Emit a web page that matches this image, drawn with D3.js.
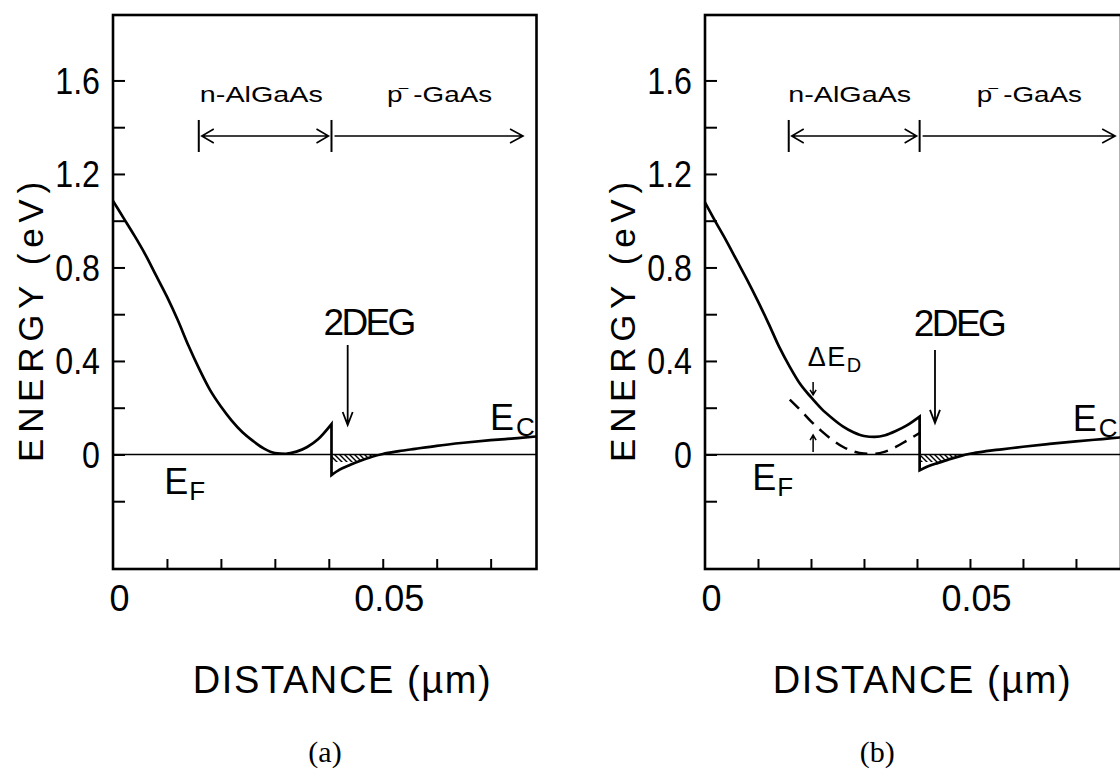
<!DOCTYPE html>
<html>
<head>
<meta charset="utf-8">
<script src="https://cdn.jsdelivr.net/npm/d3@7"></script>
<style>
  html, body { margin: 0; padding: 0; background: #fff; }
  svg { display: block; }
  text { font-family: "Liberation Sans", Arial, Helvetica, sans-serif; fill: #000; }
</style>
</head>
<body>
<svg id="chart" width="1120" height="772"></svg>
<script>
// Conduction-band edge of an n-AlGaAs / p−-GaAs heterostructure (2DEG at the interface)

// Axis ticks
const yTickValues = [-0.2, 0, 0.2, 0.4, 0.6, 0.8, 1.0, 1.2, 1.4, 1.6];
const yTickLabels = ["0", "0.4", "0.8", "1.2", "1.6"];
const yLabelValues = [0, 0.4, 0.8, 1.2, 1.6];
const xTickValues = [0.01, 0.02, 0.03, 0.04, 0.05, 0.06, 0.07];
const xLabelValues = [0, 0.05];
const xTickLabels = ["0", "0.05"];

// Distance (µm) and energy (eV) extents of each frame
const xMax = 0.0785;
const yDomain = [-0.49, 1.88];

// Layer boundaries (µm)
const interfaceX = 0.0405;
const subbandE = -0.032;   // lower edge of the occupied 2DEG band

// (a) conduction band in n-AlGaAs
const aBarrierX = [0, 0.002, 0.004, 0.006, 0.008, 0.010, 0.012, 0.014, 0.016, 0.018, 0.020,
                   0.022, 0.024, 0.026, 0.028, 0.030, 0.032, 0.034, 0.036, 0.038, 0.0405];
const aBarrierE = [1.085, 1.01, 0.935, 0.855, 0.765, 0.675, 0.575, 0.465, 0.365, 0.275, 0.205,
                   0.145, 0.095, 0.057, 0.025, 0.006, 0.003, 0.012, 0.032, 0.065, 0.13];
// (a) conduction band in p−-GaAs
const aChannelX = [0.0405, 0.042, 0.044, 0.046, 0.048, 0.050, 0.053, 0.056, 0.060, 0.065, 0.070, 0.075, 0.0785];
const aChannelE = [-0.088, -0.065, -0.044, -0.026, -0.010, 0.002, 0.014, 0.024, 0.037, 0.050, 0.061, 0.070, 0.077];

// (b) conduction band in n-AlGaAs with donor level shift
const bBarrierX = [0, 0.002, 0.004, 0.006, 0.008, 0.010, 0.012, 0.014, 0.016, 0.018, 0.020,
                   0.022, 0.024, 0.026, 0.028, 0.030, 0.032, 0.034, 0.036, 0.038, 0.0405];
const bBarrierE = [1.078, 0.995, 0.915, 0.83, 0.745, 0.655, 0.56, 0.46, 0.375, 0.30, 0.245,
                   0.195, 0.155, 0.12, 0.095, 0.079, 0.075, 0.082, 0.10, 0.123, 0.162];
// (b) band without the shift (dashed)
const bReferenceX = [0.0160, 0.018, 0.020, 0.022, 0.024, 0.026, 0.028, 0.030, 0.032, 0.034, 0.036, 0.038, 0.0405];
const bReferenceE = [0.235, 0.19, 0.142, 0.10, 0.063, 0.033, 0.013, 0.004, 0.003, 0.012, 0.032, 0.058, 0.092];
// (b) conduction band in p−-GaAs
const bChannelX = [0.0405, 0.042, 0.044, 0.046, 0.048, 0.050, 0.053, 0.056, 0.060, 0.065, 0.070, 0.075, 0.0785];
const bChannelE = [-0.068, -0.052, -0.036, -0.021, -0.008, 0.003, 0.014, 0.022, 0.033, 0.045, 0.056, 0.066, 0.073];

const panels = [
  {
    key: "a", x0: 113, width: 423.5,
    barrier: d3.zip(aBarrierX, aBarrierE),
    channel: d3.zip(aChannelX, aChannelE),
    reference: null,
    nLabel: [0.0161, 1.508], pLabel: [0.0508, 1.508],
    regionStart: 0.0159, regionE: 1.3625, pArrowEnd: 0.076,
    degLabel: [0.039, 0.511], degArrow: [0.0435, 0.468, 0.126],
    ecLabel: [0.0699, 0.105], efLabel: [0.0095, -0.168],
    yTitleE: 0.567, xTitleX: 0.0424, captionX: 0.0393, caption: "(a)",
    deltaLabel: null
  },
  {
    key: "b", x0: 705, width: 416,
    barrier: d3.zip(bBarrierX, bBarrierE),
    channel: d3.zip(bChannelX, bChannelE),
    reference: d3.zip(bReferenceX, bReferenceE),
    nLabel: [0.0157, 1.508], pLabel: [0.0513, 1.508],
    regionStart: 0.0158, regionE: 1.3625, pArrowEnd: 0.0774,
    degLabel: [0.0394, 0.507], degArrow: [0.0434, 0.447, 0.135],
    ecLabel: [0.0694, 0.1], efLabel: [0.0089, -0.152],
    yTitleE: 0.567, xTitleX: 0.0409, captionX: 0.0325, caption: "(b)",
    deltaLabel: [0.0194, 0.378], deltaArrows: [0.0204, 0.31, 0.255, 0.011, 0.083]
  }
];

const svg = d3.select("#chart");
const defs = svg.append("defs");

// diagonal hatch for the occupied 2DEG states
const hatch = defs.append("pattern")
  .attr("id", "hatch").attr("patternUnits", "userSpaceOnUse")
  .attr("width", 5).attr("height", 5);
hatch.append("path")
  .attr("d", "M-1,-1 L6,6 M4,-1 L6,1 M-1,4 L1,6")
  .attr("stroke", "#000").attr("stroke-width", 1.4);

// open V arrow from (x1,y1) to (x2,y2), in pixels
function arrowPath(x1, y1, x2, y2, len, half) {
  const a = Math.atan2(y2 - y1, x2 - x1);
  const bx = x2 - len * Math.cos(a), by = y2 - len * Math.sin(a);
  const px = -Math.sin(a) * half, py = Math.cos(a) * half;
  return `M${x1},${y1}L${x2},${y2}M${bx + px},${by + py}L${x2},${y2}L${bx - px},${by - py}`;
}

panels.forEach(p => {
  const x = d3.scaleLinear().domain([0, xMax]).range([p.x0, p.x0 + p.width]);
  const y = d3.scaleLinear().domain(yDomain).range([569, 15]);
  const g = svg.append("g").attr("class", "panel-" + p.key);

  // frame
  g.append("rect")
    .attr("x", x(0)).attr("y", y(yDomain[1]))
    .attr("width", x(xMax) - x(0)).attr("height", y(yDomain[0]) - y(yDomain[1]))
    .attr("fill", "none").attr("stroke", "#000").attr("stroke-width", 2.6);

  // left axis: inward ticks, labels every 0.4 eV
  const yAxis = g.append("g").attr("transform", `translate(${x(0)},0)`)
    .call(d3.axisLeft(y).tickValues(yTickValues).tickSize(-12).tickPadding(13)
      .tickFormat(d => {
        const i = yLabelValues.findIndex(v => Math.abs(v - d) < 1e-9);
        return i >= 0 ? yTickLabels[i] : "";
      }));
  yAxis.select(".domain").remove();
  yAxis.selectAll("line").attr("stroke", "#000").attr("stroke-width", 2);
  yAxis.selectAll("text").attr("font-size", 37).attr("font-family", "Liberation Sans, Arial, sans-serif")
    .attr("dy", "0.35em")
    .each(function () {
      // condensed lettering
      const w = this.getComputedTextLength();
      if (w > 0) d3.select(this).attr("textLength", w * 0.87).attr("lengthAdjust", "spacingAndGlyphs");
    });

  // bottom axis: inward ticks
  const xAxis = g.append("g").attr("transform", `translate(0,${y(yDomain[0])})`)
    .call(d3.axisBottom(x).tickValues(xTickValues).tickSize(-10).tickFormat(""));
  xAxis.select(".domain").remove();
  xAxis.selectAll("line").attr("stroke", "#000").attr("stroke-width", 2);

  const xLabels = g.append("g").attr("transform", `translate(0,${y(yDomain[0])})`)
    .call(d3.axisBottom(x).tickValues(xLabelValues).tickSize(0).tickPadding(16)
      .tickFormat((d, i) => xTickLabels[i]));
  xLabels.select(".domain").remove();
  xLabels.selectAll("text").attr("font-size", 36).attr("font-family", "Liberation Sans, Arial, sans-serif")
    .attr("dx", 6);

  // axis titles
  g.append("text")
    .attr("transform", `translate(${x(0) - 70},${y(p.yTitleE)}) rotate(-90)`)
    .attr("text-anchor", "middle").attr("font-size", 35)
    .attr("textLength", 280)
    .text("ENERGY (eV)");
  g.append("text")
    .attr("x", x(p.xTitleX)).attr("y", 693)
    .attr("text-anchor", "middle").attr("font-size", 38)
    .attr("textLength", 298)
    .text("DISTANCE (µm)");
  g.append("text")
    .attr("x", x(p.captionX)).attr("y", 762)
    .attr("text-anchor", "middle").attr("font-size", 30)
    .style("font-family", "'Liberation Serif', 'Times New Roman', serif")
    .text(p.caption);

  // Fermi level
  g.append("line")
    .attr("x1", x(0)).attr("x2", x(xMax)).attr("y1", y(0)).attr("y2", y(0))
    .attr("stroke", "#000").attr("stroke-width", 1.6);

  // occupied 2DEG states between the subband and the Fermi level
  const clipId = "clip-2deg-" + p.key;
  defs.append("clipPath").attr("id", clipId).append("rect")
    .attr("x", x(interfaceX)).attr("y", y(0))
    .attr("width", x(xMax) - x(interfaceX)).attr("height", y(subbandE) - y(0));
  const wellIdx = p.channel.findIndex(d => d[1] > 0);
  const well = p.channel.slice(0, wellIdx + 1);
  g.append("path")
    .attr("d", d3.area().x(d => x(d[0])).y0(y(0)).y1(d => y(d[1])).curve(d3.curveMonotoneX)(well))
    .attr("fill", "url(#hatch)").attr("stroke", "none")
    .attr("clip-path", `url(#${clipId})`);

  // conduction band edge: barrier, band offset at the interface, channel
  const line = d3.line().x(d => x(d[0])).y(d => y(d[1])).curve(d3.curveMonotoneX);
  g.append("path")
    .attr("d", line(p.barrier) + line(p.channel).replace(/^M/, "L"))
    .attr("fill", "none").attr("stroke", "#000").attr("stroke-width", 2.7)
    .attr("stroke-linejoin", "miter");

  if (p.reference) {
    g.append("path")
      .attr("d", line(p.reference))
      .attr("fill", "none").attr("stroke", "#000").attr("stroke-width", 2.5)
      .attr("stroke-dasharray", "13,8");
  }

  // layer labels and extents
  g.append("text").attr("x", x(p.nLabel[0])).attr("y", y(p.nLabel[1]))
    .attr("font-size", 22.5).attr("textLength", 123).attr("lengthAdjust", "spacingAndGlyphs")
    .text("n-AlGaAs");
  const pl = g.append("text").attr("x", x(p.pLabel[0])).attr("y", y(p.pLabel[1]))
    .attr("font-size", 22.5).attr("textLength", 105).attr("lengthAdjust", "spacingAndGlyphs");
  pl.append("tspan").text("p");
  pl.append("tspan").attr("font-size", 14).attr("dx", -3).attr("dy", -10).text("–");
  pl.append("tspan").attr("dx", 4).attr("dy", 10).text("-GaAs");

  const ry = y(p.regionE);
  [p.regionStart, interfaceX].forEach(v => {
    g.append("line").attr("x1", x(v)).attr("x2", x(v)).attr("y1", ry - 16).attr("y2", ry + 16)
      .attr("stroke", "#000").attr("stroke-width", 2);
  });
  const midN = (x(p.regionStart) + x(interfaceX)) / 2;
  g.append("path").attr("d",
      arrowPath(midN, ry, x(p.regionStart) + 3, ry, 12, 7) +
      arrowPath(midN, ry, x(interfaceX) - 3, ry, 12, 7) +
      arrowPath(x(interfaceX) + 3, ry, x(p.pArrowEnd), ry, 13, 7))
    .attr("fill", "none").attr("stroke", "#000").attr("stroke-width", 1.6);

  // 2DEG label and pointer
  g.append("text").attr("x", x(p.degLabel[0])).attr("y", y(p.degLabel[1]))
    .attr("font-size", 37).attr("textLength", 93).text("2DEG");
  g.append("path")
    .attr("d", arrowPath(x(p.degArrow[0]), y(p.degArrow[1]), x(p.degArrow[0]), y(p.degArrow[2]), 13, 5))
    .attr("fill", "none").attr("stroke", "#000").attr("stroke-width", 1.8);

  // band edge and Fermi level labels
  const ec = g.append("text").attr("x", x(p.ecLabel[0])).attr("y", y(p.ecLabel[1])).attr("font-size", 36);
  ec.append("tspan").text("E");
  ec.append("tspan").attr("font-size", 26).attr("dx", 2).attr("dy", 6).text("C");
  const ef = g.append("text").attr("x", x(p.efLabel[0])).attr("y", y(p.efLabel[1])).attr("font-size", 36);
  ef.append("tspan").text("E");
  ef.append("tspan").attr("font-size", 26).attr("dx", 1).attr("dy", 6).text("F");

  // donor-level shift between the solid and dashed bands
  if (p.deltaLabel) {
    const dl = g.append("text").attr("x", x(p.deltaLabel[0])).attr("y", y(p.deltaLabel[1]))
      .attr("font-size", 27).attr("letter-spacing", 1.5);
    dl.append("tspan").text("ΔE");
    dl.append("tspan").attr("font-size", 20).attr("dy", 6).text("D");
    const [ax, d1, d2, u1, u2] = p.deltaArrows;
    g.append("path")
      .attr("d", arrowPath(x(ax), y(d1), x(ax), y(d2), 5, 3) + arrowPath(x(ax), y(u1), x(ax), y(u2), 5, 3))
      .attr("fill", "none").attr("stroke", "#000").attr("stroke-width", 1.5);
  }
});
</script>
</body>
</html>
